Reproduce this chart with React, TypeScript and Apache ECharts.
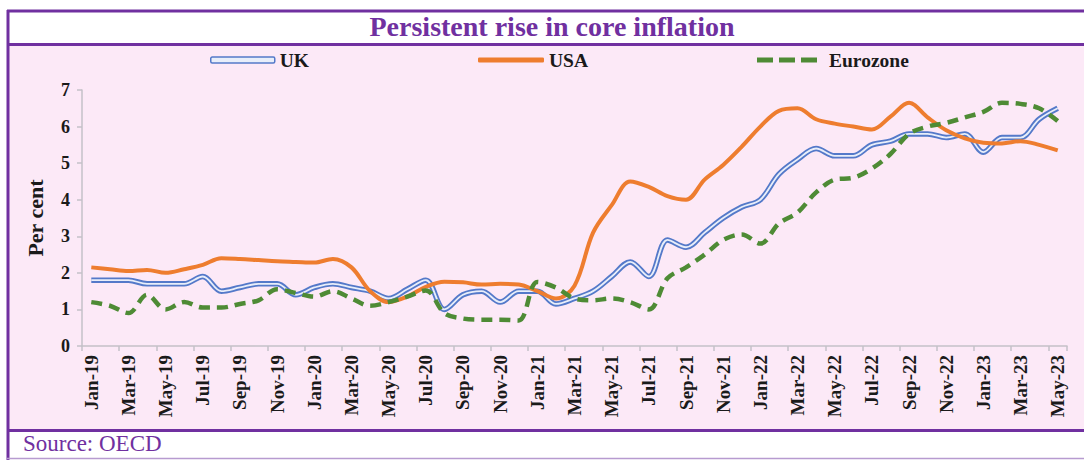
import React, { useEffect, useRef } from "react";
import * as echarts from "echarts";

const MONTHS = [
  "Jan-19","Feb-19","Mar-19","Apr-19","May-19","Jun-19","Jul-19","Aug-19","Sep-19","Oct-19","Nov-19","Dec-19",
  "Jan-20","Feb-20","Mar-20","Apr-20","May-20","Jun-20","Jul-20","Aug-20","Sep-20","Oct-20","Nov-20","Dec-20",
  "Jan-21","Feb-21","Mar-21","Apr-21","May-21","Jun-21","Jul-21","Aug-21","Sep-21","Oct-21","Nov-21","Dec-21",
  "Jan-22","Feb-22","Mar-22","Apr-22","May-22","Jun-22","Jul-22","Aug-22","Sep-22","Oct-22","Nov-22","Dec-22",
  "Jan-23","Feb-23","Mar-23","Apr-23","May-23",
];

const UK = [
  1.8, 1.8, 1.8, 1.7, 1.7, 1.7, 1.9, 1.5, 1.6, 1.7, 1.7, 1.4,
  1.6, 1.7, 1.6, 1.5, 1.3, 1.55, 1.8, 1.0, 1.4, 1.5, 1.2, 1.5,
  1.5, 1.15, 1.3, 1.5, 1.9, 2.3, 1.9, 2.9, 2.7, 3.1, 3.5, 3.8,
  4.0, 4.7, 5.1, 5.4, 5.2, 5.2, 5.5, 5.6, 5.8, 5.8, 5.7, 5.8,
  5.3, 5.7, 5.7, 6.2, 6.5,
];

const USA = [
  2.15, 2.1, 2.05, 2.08, 2.0, 2.1, 2.22, 2.4, 2.38, 2.35, 2.32, 2.3,
  2.28, 2.38, 2.15, 1.5, 1.2, 1.35, 1.62, 1.76, 1.74, 1.68, 1.7, 1.68,
  1.5, 1.3, 1.65, 3.1, 3.85, 4.5, 4.35, 4.1, 4.0, 4.55, 4.95, 5.45,
  6.0, 6.43, 6.5, 6.2, 6.08, 6.0, 5.92, 6.27, 6.65, 6.25, 5.9, 5.68,
  5.56, 5.54, 5.6, 5.5, 5.35,
];

const EUROZONE = [
  1.2, 1.1, 0.9, 1.4, 1.0, 1.2, 1.05, 1.05, 1.15, 1.25, 1.55, 1.45,
  1.35, 1.5, 1.3, 1.1, 1.2, 1.35, 1.52, 0.9, 0.75, 0.72, 0.72, 0.7,
  1.75, 1.6, 1.3, 1.25, 1.3, 1.2, 1.0, 1.85, 2.15, 2.5, 2.9, 3.05,
  2.8, 3.35, 3.65, 4.2, 4.55, 4.6, 4.85, 5.25, 5.8, 6.0, 6.1, 6.25,
  6.4, 6.65, 6.62, 6.5, 6.15,
];

const Y_TICKS = { min: 0, max: 7, interval: 1 };

const FONT = '"Liberation Serif", "Times New Roman", serif';
const PURPLE = "#7030a0";
const PINK = "#fce9f7";
const UK_OUT = "#5479c9";
const UK_IN = "#e8eefa";
const USA_C = "#ee7d2f";
const EZ_C = "#4e8b35";
const AXIS_C = "#c4c0c8";

export default function App() {
  const ref = useRef<HTMLDivElement>(null);

  useEffect(() => {
    if (!ref.current) return;
    const chart = echarts.init(ref.current, undefined, { renderer: "svg" });
    const legendText = {
      fontFamily: FONT,
      fontSize: 19.5,
      fontWeight: "bold" as const,
      color: "#1a1a1a",
    };
    const smooth = 0.35;
    chart.setOption({
      animation: false,
      backgroundColor: "#ffffff",
      graphic: [
        { type: "rect", z: -10, silent: true, shape: { x: 8, y: 45, width: 1076, height: 385 }, style: { fill: PINK } },
        { type: "line", silent: true, shape: { x1: 7, y1: 11, x2: 1084, y2: 11 }, style: { stroke: PURPLE, lineWidth: 3 } },
        { type: "line", silent: true, shape: { x1: 8, y1: 10, x2: 8, y2: 460 }, style: { stroke: PURPLE, lineWidth: 3 } },
        { type: "line", silent: true, shape: { x1: 7, y1: 44.5, x2: 1084, y2: 44.5 }, style: { stroke: PURPLE, lineWidth: 3 } },
        { type: "line", silent: true, shape: { x1: 7, y1: 430.5, x2: 1084, y2: 430.5 }, style: { stroke: PURPLE, lineWidth: 3 } },
        { type: "line", silent: true, shape: { x1: 7, y1: 458.5, x2: 1084, y2: 458.5 }, style: { stroke: "#b79bd0", lineWidth: 1.5 } },
        {
          type: "text",
          silent: true,
          x: 552,
          y: 26,
          style: {
            text: "Persistent rise in core inflation",
            fill: PURPLE,
            font: `bold 28px ${FONT}`,
            align: "center",
            verticalAlign: "middle",
          },
        },
        {
          type: "text",
          silent: true,
          x: 23,
          y: 443,
          style: {
            text: "Source: OECD",
            fill: PURPLE,
            font: `23px ${FONT}`,
            align: "left",
            verticalAlign: "middle",
          },
        },
      ],
      legend: [
        {
          left: 210, top: 50, padding: 0, itemWidth: 64, itemHeight: 6,
          data: [{ name: "UK", icon: "roundRect", itemStyle: { color: UK_IN, borderColor: UK_OUT, borderWidth: 1.5 } }],
          textStyle: legendText,
        },
        {
          left: 478, top: 50, padding: 0, itemWidth: 66, itemHeight: 5,
          data: [{ name: "USA", icon: "roundRect", itemStyle: { color: USA_C } }],
          textStyle: legendText,
        },
        {
          left: 757, top: 50, padding: 0, itemWidth: 66, itemHeight: 5,
          data: [{ name: "Eurozone", icon: "path://M0,0h16v5h-16zM22,0h16v5h-16zM44,0h16v5h-16z", itemStyle: { color: EZ_C } }],
          textStyle: { ...legendText, padding: [0, 0, 0, 4] },
        },
      ],
      grid: { left: 82, right: 17, top: 90, bottom: 114, containLabel: false },
      xAxis: {
        type: "category",
        data: MONTHS,
        boundaryGap: true,
        axisLine: { show: true, lineStyle: { color: AXIS_C, width: 1.5 } },
        axisTick: { show: true, interval: 1, length: 5, lineStyle: { color: AXIS_C, width: 1.5 } },
        axisLabel: {
          interval: 1,
          rotate: 90,
          margin: 9,
          fontFamily: FONT,
          fontSize: 19,
          fontWeight: "bold",
          color: "#1a1a1a",
        },
        splitLine: { show: false },
      },
      yAxis: {
        type: "value",
        min: Y_TICKS.min,
        max: Y_TICKS.max,
        interval: Y_TICKS.interval,
        name: "Per cent",
        nameLocation: "middle",
        nameGap: 36,
        nameRotate: 90,
        nameTextStyle: { fontFamily: FONT, fontSize: 22, fontWeight: "bold", color: "#1a1a1a" },
        axisLine: { show: true, lineStyle: { color: AXIS_C, width: 1.5 } },
        axisTick: { show: true, length: 5, lineStyle: { color: AXIS_C, width: 1.5 } },
        axisLabel: { margin: 12, fontFamily: FONT, fontSize: 18, fontWeight: "bold", color: "#1a1a1a" },
        splitLine: { show: false },
      },
      series: [
        { name: "UK", type: "line", data: UK, smooth, symbol: "none", z: 2, lineStyle: { color: UK_OUT, width: 5.5 } },
        { name: "UK", type: "line", data: UK, smooth, symbol: "none", z: 3, lineStyle: { color: UK_IN, width: 1.8 } },
        { name: "USA", type: "line", data: USA, smooth, symbol: "none", z: 4, lineStyle: { color: USA_C, width: 4 } },
        { name: "Eurozone", type: "line", data: EUROZONE, smooth, symbol: "none", z: 5, lineStyle: { color: EZ_C, width: 4.5, type: [11, 7] } },
      ],
    });
    return () => chart.dispose();
  }, []);

  return (
    <div
      ref={ref}
      style={{ position: "absolute", left: 0, top: 0, width: 1084, height: 460 }}
    />
  );
}
